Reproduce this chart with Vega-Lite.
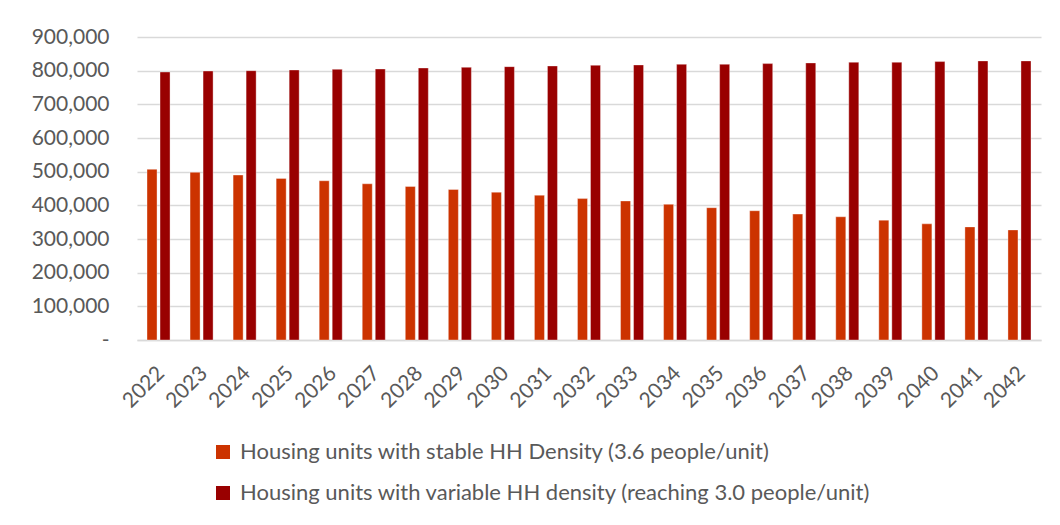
{
  "$schema": "https://vega.github.io/schema/vega-lite/v6.json",
  "width": 904,
  "height": 303,
  "autosize": {"type": "none"},
  "padding": {"left": 137, "top": 37, "right": 19, "bottom": 185},
  "background": "white",
  "config": {
    "view": {"stroke": null},
    "font": "Lato",
    "axis": {"labelColor": "#595959", "labelFont": "Lato", "labelFontSize": 21}
  },
  "data": {
    "values": [
      {"year": "2022", "series": "Housing units with stable HH Density (3.6 people/unit)", "value": 507000},
      {"year": "2023", "series": "Housing units with stable HH Density (3.6 people/unit)", "value": 498000},
      {"year": "2024", "series": "Housing units with stable HH Density (3.6 people/unit)", "value": 490000},
      {"year": "2025", "series": "Housing units with stable HH Density (3.6 people/unit)", "value": 480000},
      {"year": "2026", "series": "Housing units with stable HH Density (3.6 people/unit)", "value": 473000},
      {"year": "2027", "series": "Housing units with stable HH Density (3.6 people/unit)", "value": 464000},
      {"year": "2028", "series": "Housing units with stable HH Density (3.6 people/unit)", "value": 456000},
      {"year": "2029", "series": "Housing units with stable HH Density (3.6 people/unit)", "value": 447000},
      {"year": "2030", "series": "Housing units with stable HH Density (3.6 people/unit)", "value": 439000},
      {"year": "2031", "series": "Housing units with stable HH Density (3.6 people/unit)", "value": 430000},
      {"year": "2032", "series": "Housing units with stable HH Density (3.6 people/unit)", "value": 420000},
      {"year": "2033", "series": "Housing units with stable HH Density (3.6 people/unit)", "value": 413000},
      {"year": "2034", "series": "Housing units with stable HH Density (3.6 people/unit)", "value": 403000},
      {"year": "2035", "series": "Housing units with stable HH Density (3.6 people/unit)", "value": 393000},
      {"year": "2036", "series": "Housing units with stable HH Density (3.6 people/unit)", "value": 384000},
      {"year": "2037", "series": "Housing units with stable HH Density (3.6 people/unit)", "value": 374000},
      {"year": "2038", "series": "Housing units with stable HH Density (3.6 people/unit)", "value": 366000},
      {"year": "2039", "series": "Housing units with stable HH Density (3.6 people/unit)", "value": 356000},
      {"year": "2040", "series": "Housing units with stable HH Density (3.6 people/unit)", "value": 345000},
      {"year": "2041", "series": "Housing units with stable HH Density (3.6 people/unit)", "value": 336000},
      {"year": "2042", "series": "Housing units with stable HH Density (3.6 people/unit)", "value": 327000},
      {"year": "2022", "series": "Housing units with variable HH density (reaching 3.0 people/unit)", "value": 796000},
      {"year": "2023", "series": "Housing units with variable HH density (reaching 3.0 people/unit)", "value": 799000},
      {"year": "2024", "series": "Housing units with variable HH density (reaching 3.0 people/unit)", "value": 800000},
      {"year": "2025", "series": "Housing units with variable HH density (reaching 3.0 people/unit)", "value": 802000},
      {"year": "2026", "series": "Housing units with variable HH density (reaching 3.0 people/unit)", "value": 804000},
      {"year": "2027", "series": "Housing units with variable HH density (reaching 3.0 people/unit)", "value": 805000},
      {"year": "2028", "series": "Housing units with variable HH density (reaching 3.0 people/unit)", "value": 808000},
      {"year": "2029", "series": "Housing units with variable HH density (reaching 3.0 people/unit)", "value": 810000},
      {"year": "2030", "series": "Housing units with variable HH density (reaching 3.0 people/unit)", "value": 812000},
      {"year": "2031", "series": "Housing units with variable HH density (reaching 3.0 people/unit)", "value": 814000},
      {"year": "2032", "series": "Housing units with variable HH density (reaching 3.0 people/unit)", "value": 816000},
      {"year": "2033", "series": "Housing units with variable HH density (reaching 3.0 people/unit)", "value": 817000},
      {"year": "2034", "series": "Housing units with variable HH density (reaching 3.0 people/unit)", "value": 819000},
      {"year": "2035", "series": "Housing units with variable HH density (reaching 3.0 people/unit)", "value": 819000},
      {"year": "2036", "series": "Housing units with variable HH density (reaching 3.0 people/unit)", "value": 821000},
      {"year": "2037", "series": "Housing units with variable HH density (reaching 3.0 people/unit)", "value": 823000},
      {"year": "2038", "series": "Housing units with variable HH density (reaching 3.0 people/unit)", "value": 825000},
      {"year": "2039", "series": "Housing units with variable HH density (reaching 3.0 people/unit)", "value": 825000},
      {"year": "2040", "series": "Housing units with variable HH density (reaching 3.0 people/unit)", "value": 827000},
      {"year": "2041", "series": "Housing units with variable HH density (reaching 3.0 people/unit)", "value": 829000},
      {"year": "2042", "series": "Housing units with variable HH density (reaching 3.0 people/unit)", "value": 829000}
    ]
  },
  "mark": {"type": "bar", "stroke": "#ffffff", "strokeOpacity": 0.6, "strokeWidth": 0.6},
  "encoding": {
    "x": {
      "field": "year",
      "type": "nominal",
      "scale": {"paddingInner": 0.465, "paddingOuter": 0.2325},
      "axis": {
        "title": null,
        "labelAngle": -45,
        "ticks": false,
        "domainColor": "#d9d9d9",
        "domainWidth": 1.5,
        "labelPadding": 22,
        "labelOffset": -5
      }
    },
    "xOffset": {
      "field": "series",
      "type": "nominal",
      "scale": {"paddingInner": 0.23, "paddingOuter": 0}
    },
    "y": {
      "field": "value",
      "type": "quantitative",
      "scale": {"domain": [0, 900000], "nice": false},
      "axis": {
        "title": null,
        "values": [0, 100000, 200000, 300000, 400000, 500000, 600000, 700000, 800000, 900000],
        "labelExpr": "datum.value == 0 ? '-\u00a0\u00a0\u00a0\u00a0' : format(datum.value, ',')",
        "ticks": false,
        "domain": false,
        "gridColor": "#d9d9d9",
        "gridWidth": 1.5,
        "labelPadding": 28
      }
    },
    "color": {
      "field": "series",
      "type": "nominal",
      "scale": {"range": ["#CC3300", "#990000"]},
      "legend": {
        "title": null,
        "orient": "none",
        "legendX": 75,
        "legendY": 404,
        "direction": "vertical",
        "symbolType": "square",
        "symbolSize": 196,
        "symbolStrokeWidth": 0,
        "labelFontSize": 22,
        "labelColor": "#595959",
        "labelLimit": 1000,
        "labelOffset": 6,
        "rowPadding": 19
      }
    }
  }
}
